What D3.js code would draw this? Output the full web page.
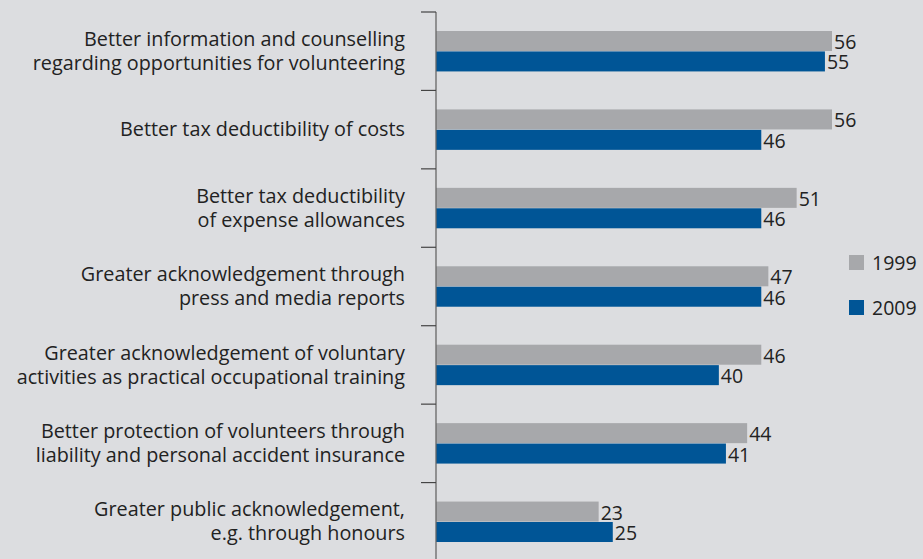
<!DOCTYPE html>
<html>
<head>
<meta charset="utf-8">
<script src="https://cdn.jsdelivr.net/npm/d3@7"></script>
<style>
  html, body { margin: 0; padding: 0; background: #dcdde0; }
  svg { display: block; }
  text { font-family: "Open Sans", "Noto Sans", sans-serif; fill: #222; }
</style>
</head>
<body>
<svg id="chart" width="923" height="559"></svg>
<script>
// Measures to encourage volunteering, share in percent
const categories = [
  ["Better information and counselling", "regarding opportunities for volunteering"],
  ["Better tax deductibility of costs"],
  ["Better tax deductibility", "of expense allowances"],
  ["Greater acknowledgement through", "press and media reports"],
  ["Greater acknowledgement of voluntary", "activities as practical occupational training"],
  ["Better protection of volunteers through", "liability and personal accident insurance"],
  ["Greater public acknowledgement,", "e.g. through honours"]
];
const seriesNames = ["1999", "2009"];
const values1999 = [56, 56, 51, 47, 46, 44, 23];
const values2009 = [55, 46, 46, 46, 40, 41, 25];
const colors = ["#a7a8ab", "#005596"];

const svg = d3.select("#chart");
const axisX = 436, plotTop = 12, plotBottom = 561;
const labelSize = 19.8, valueSize = 19.5;

const y = d3.scaleBand()
  .domain(d3.range(categories.length))
  .range([plotTop, plotBottom])
  .paddingInner(0)
  .paddingOuter(0);

const x = d3.scaleLinear().domain([0, 56]).range([axisX, 832]);

const sub = d3.scaleBand()
  .domain(seriesNames)
  .range([0, y.bandwidth()])
  .paddingInner(0.02)
  .paddingOuter(0.93);

const data = categories.map((c, i) => ({
  i, label: c,
  vals: [
    { s: "1999", v: values1999[i] },
    { s: "2009", v: values2009[i] }
  ]
}));

const g = svg.selectAll("g.cat").data(data).join("g")
  .attr("class", "cat")
  .attr("transform", d => `translate(0,${y(d.i)})`);

g.selectAll("rect").data(d => d.vals).join("rect")
  .attr("x", x(0))
  .attr("y", d => sub(d.s))
  .attr("width", d => x(d.v) - x(0))
  .attr("height", sub.bandwidth())
  .attr("fill", (d, j) => colors[j]);

g.selectAll("text.val").data(d => d.vals).join("text")
  .attr("class", "val")
  .attr("x", d => x(d.v) + 2)
  .attr("y", d => sub(d.s) + sub.bandwidth() / 2 + 1)
  .attr("dy", "0.36em")
  .attr("font-size", valueSize)
  .text(d => d.v);

// category labels, right-aligned left of the axis
g.each(function(d) {
  const n = d.label.length;
  const cy = y.bandwidth() / 2 - 0.5;
  const lh = 24;
  d3.select(this).selectAll("text.lab").data(d.label).join("text")
    .attr("class", "lab")
    .attr("x", 405)
    .attr("y", (t, k) => cy + (k - (n - 1) / 2) * lh)
    .attr("dy", "0.36em")
    .attr("text-anchor", "end")
    .attr("font-size", labelSize)
    .text(t => t);
});

// vertical axis with ticks at category boundaries
const boundaries = d3.range(categories.length).map(i => y(i));
svg.append("line")
  .attr("x1", axisX).attr("x2", axisX)
  .attr("y1", plotTop).attr("y2", 559)
  .attr("stroke", "#666").attr("stroke-width", 1.3);
svg.selectAll("line.tick").data(boundaries).join("line")
  .attr("class", "tick")
  .attr("x1", 421).attr("x2", axisX)
  .attr("y1", d => d).attr("y2", d => d)
  .attr("stroke", "#444").attr("stroke-width", 1.2);

// legend
const leg = svg.selectAll("g.leg").data(seriesNames).join("g")
  .attr("class", "leg")
  .attr("transform", (d, i) => `translate(849,${255 + i * 45})`);
leg.append("rect").attr("width", 15).attr("height", 15)
  .attr("fill", (d, i) => colors[i]);
leg.append("text").attr("x", 23).attr("y", 8).attr("dy", "0.36em")
  .attr("font-size", valueSize).text(d => d);
</script>
</body>
</html>
